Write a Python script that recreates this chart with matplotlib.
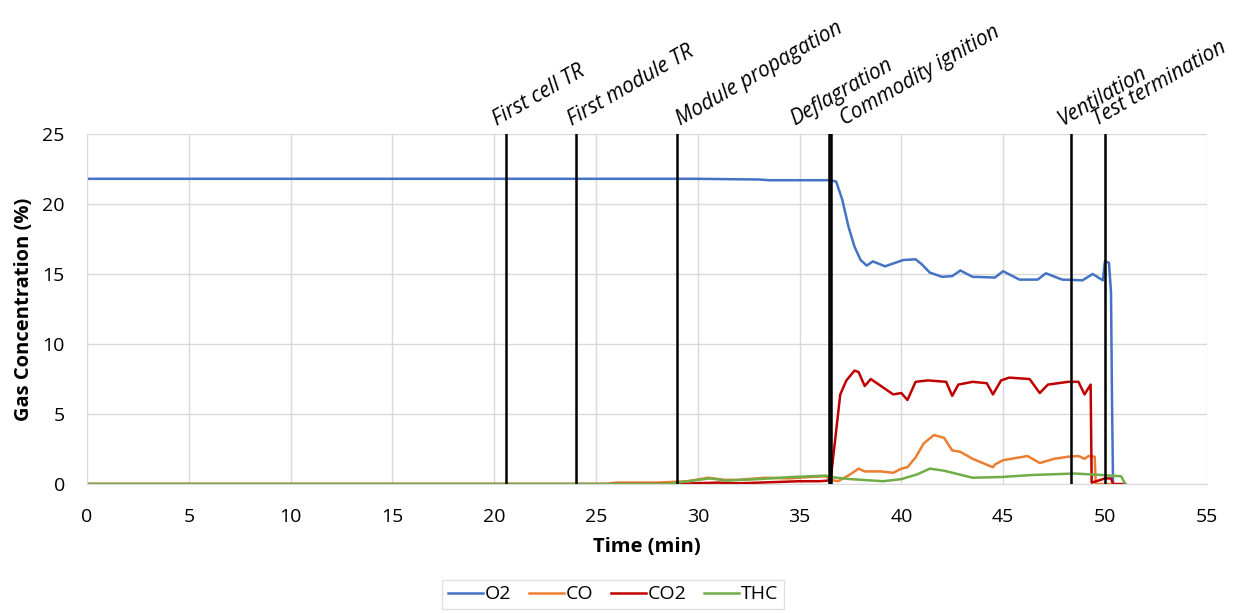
import matplotlib.pyplot as plt

plt.rcParams['font.family'] = ['Open Sans', 'DejaVu Sans']

# --- data ---
t_o2 = [0, 30, 33, 33.5, 36.0, 36.5, 36.8, 37.1, 37.4, 37.7, 38.0, 38.3, 38.6, 39.2, 40.1, 40.7, 41.0,
        41.4, 42.0, 42.5, 42.9, 43.5, 44.6, 45.0, 45.8, 46.7, 47.1, 47.9, 48.9, 49.4, 49.9, 50.0,
        50.2, 50.3, 50.35, 50.4]
o2 = [21.8, 21.8, 21.75, 21.7, 21.7, 21.7, 21.6, 20.3, 18.4, 16.95, 16.0, 15.6, 15.9, 15.55, 16.0,
      16.05, 15.7, 15.1, 14.8, 14.85, 15.25, 14.8, 14.75, 15.2, 14.6, 14.6, 15.05, 14.6, 14.55, 15.0,
      14.55, 15.9, 15.8, 13.7, 5.9, 0.0]

t_co = [0, 25.5, 26, 28, 29.5, 30.5, 31.3, 32, 33.3, 34.5, 35.5, 36.3, 36.5, 36.9, 37.5, 37.9, 38.2,
        39.0, 39.6, 40.0, 40.3, 40.7, 41.1, 41.6, 42.1, 42.5, 42.9, 43.5, 44.5, 44.6, 45.0, 46.2,
        46.8, 47.5, 48.2, 48.7, 49.0, 49.2, 49.5, 49.55, 50.4]
co = [0, 0, 0.1, 0.1, 0.2, 0.45, 0.3, 0.3, 0.45, 0.4, 0.5, 0.55, 0.3, 0.2, 0.7, 1.1, 0.9, 0.9, 0.8,
      1.1, 1.2, 1.9, 2.9, 3.5, 3.3, 2.4, 2.3, 1.8, 1.2, 1.4, 1.7, 2.0, 1.5, 1.8, 1.95, 2.0, 1.8, 2.0,
      1.95, 0, 0]

t_co2 = [0, 29.3, 29.8, 31, 32, 33, 34, 35, 36, 36.45, 36.55, 37.0, 37.3, 37.7, 37.9, 38.2, 38.5,
         39.0, 39.6, 40.0, 40.3, 40.7, 41.3, 42.2, 42.5, 42.8, 43.5, 44.2, 44.5, 44.9, 45.3, 46.3,
         46.8, 47.2, 48.2, 48.7, 49.0, 49.3, 49.35, 49.8, 50.0, 50.3, 50.4, 51.0]
co2 = [0, 0, 0.05, 0.1, 0.05, 0.1, 0.15, 0.2, 0.2, 0.25, 0.6, 6.4, 7.4, 8.1, 8.0, 7.0, 7.5, 7.0, 6.4,
       6.5, 6.0, 7.3, 7.4, 7.3, 6.3, 7.1, 7.3, 7.2, 6.4, 7.4, 7.6, 7.5, 6.5, 7.1, 7.3, 7.3, 6.4, 7.1,
       0.1, 0.3, 0.4, 0.4, 0, 0]

t_thc = [0, 28.5, 29.5, 30.6, 31.4, 33.0, 34.6, 36.3, 36.5, 37.5, 39.1, 40.0, 40.8, 41.4, 42.1,
         42.8, 43.5, 44.9, 46.5, 48.5, 49.8, 50.8, 51.0]
thc = [0, 0, 0.2, 0.4, 0.25, 0.35, 0.5, 0.6, 0.5, 0.35, 0.2, 0.35, 0.7, 1.1, 0.95, 0.7, 0.45, 0.5,
       0.65, 0.75, 0.65, 0.55, 0]

events = ['First cell TR', 'First module TR', 'Module propagation', 'Deflagration',
          'Commodity ignition', 'Ventilation', 'Test termination']
event_times = [20.58, 24.0, 28.98, 36.45, 36.55, 48.33, 50.0]
label_x = [20.14, 23.82, 29.13, 34.77, 37.23, 47.89, 49.6]

fig = plt.figure(figsize=(12.44, 6.13), dpi=100)
ax = fig.add_axes([0.070, 0.2104, 0.900, 0.571])

ax.plot(t_o2, o2, color='#4472C4', lw=1.8, label='O2')
ax.plot(t_co, co, color='#ED7D31', lw=1.8, label='CO')
ax.plot(t_co2, co2, color='#C00000', lw=1.8, label='CO2')
ax.plot(t_thc, thc, color='#70AD47', lw=1.8, label='THC')

# --- event markers ---
for name, t, lx in zip(events, event_times, label_x):
    ax.plot([t, t], [0, 25], color='black', lw=1.8, zorder=5)
    ax.text(lx, 25.6, name, rotation=30, rotation_mode='anchor', ha='left', va='baseline',
            fontsize=15, style='italic', clip_on=False)

ax.set_xlim(0, 55)
ax.set_ylim(0, 25)
ax.set_xticks(range(0, 56, 5))
ax.set_yticks(range(0, 26, 5))
ax.grid(True, color='#d9d9d9', lw=1)
ax.set_axisbelow(True)
for s in ['top', 'right']:
    ax.spines[s].set_visible(False)
for s in ['left', 'bottom']:
    ax.spines[s].set_color('#d9d9d9')
ax.tick_params(length=0, labelsize=14)
ax.tick_params(axis='x', pad=17)
ax.tick_params(axis='y', pad=16)
ax.set_xlabel('Time (min)', fontsize=14.5, fontweight='bold', labelpad=8)
ax.set_ylabel('Gas Concentration (%)', fontsize=14.5, fontweight='bold', labelpad=6)

leg = ax.legend(loc='upper center', bbox_to_anchor=(0.47, -0.245), ncol=4, fontsize=14,
                frameon=True, fancybox=False, edgecolor='#d9d9d9', handlelength=1.8,
                handletextpad=0.1, columnspacing=0.9, borderpad=0.3)

fig.savefig('out.png', dpi=100)
